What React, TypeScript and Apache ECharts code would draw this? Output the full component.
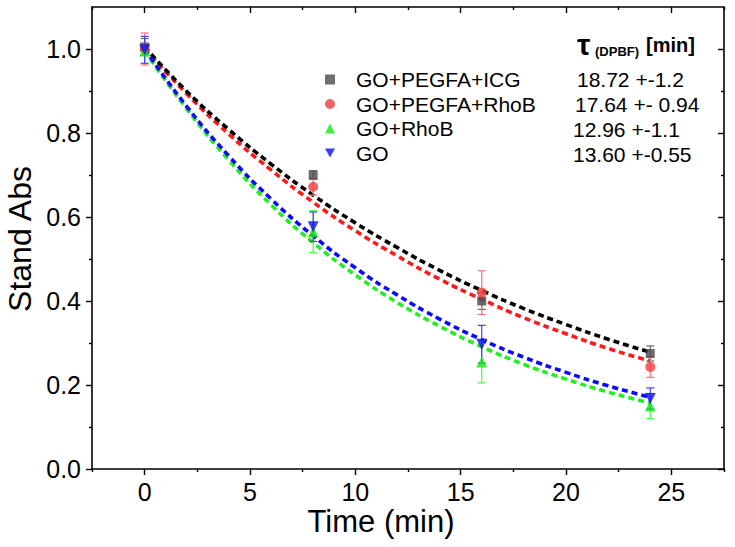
import React, { useEffect, useRef } from "react";
import * as echarts from "echarts";

const FONT = "'Liberation Sans', Arial, Helvetica, sans-serif";

const times = [0, 8, 16, 24];
const seriesNames = ["GO+PEGFA+ICG", "GO+PEGFA+RhoB", "GO+RhoB", "GO"];
const tauLabels = ["18.72 +-1.2", "17.64 +- 0.94", "12.96 +-1.1", "13.60 +-0.55"];

const icgValues = [1.005, 0.7, 0.4, 0.275];
const icgErrors = [0.02, 0.01, 0.02, 0.018];
const rhobPegValues = [1.0, 0.672, 0.42, 0.243];
const rhobPegErrors = [0.038, 0.02, 0.052, 0.025];
const rhobValues = [0.995, 0.565, 0.255, 0.15];
const rhobErrors = [0.01, 0.05, 0.05, 0.03];
const goValues = [0.998, 0.577, 0.297, 0.168];
const goErrors = [0.032, 0.035, 0.045, 0.025];

const fitTimes = [0, 2, 4, 6, 8, 10, 12, 14, 16, 18, 20, 22, 24];
const icgFit = [1.005, 0.899, 0.808, 0.726, 0.652, 0.586, 0.527, 0.473, 0.425, 0.382, 0.344, 0.309, 0.278];
const rhobPegFit = [1.0, 0.893, 0.797, 0.712, 0.635, 0.567, 0.507, 0.452, 0.404, 0.36, 0.322, 0.287, 0.257];
const rhobFit = [0.995, 0.857, 0.735, 0.629, 0.539, 0.462, 0.396, 0.34, 0.291, 0.249, 0.214, 0.183, 0.157];
const goFit = [1.0, 0.863, 0.745, 0.643, 0.555, 0.479, 0.414, 0.357, 0.308, 0.266, 0.23, 0.198, 0.171];

const xMajor = [0, 5, 10, 15, 20, 25];
const xMinor = [-2.5, 2.5, 7.5, 12.5, 17.5, 22.5, 27.5];
const yMajor = [0, 0.2, 0.4, 0.6, 0.8, 1.0];
const yMinor = [0.1, 0.3, 0.5, 0.7, 0.9];

const markerColors = ["#4a4a4a", "#f03c3c", "#14e814", "#1010f0"];
const lineColors = ["#000000", "#ff1a1a", "#22ee22", "#0a0aff"];
const errColors = ["#666666", "#ff7070", "#44ff44", "#4040ff"];
const symbols = ["rect", "circle", "triangle", "path://M0,0 L10,0 L5,9 Z"];
const symbolSizes = [9, 10, 11, 11];

const pointSets = [icgValues, rhobPegValues, rhobValues, goValues];
const errorSets = [icgErrors, rhobPegErrors, rhobErrors, goErrors];
const fitSets = [icgFit, rhobPegFit, rhobFit, goFit];

export default function App() {
  const ref = useRef<HTMLDivElement>(null);
  useEffect(() => {
    document.body.style.margin = "0";
    if (!ref.current) return;
    const chart = echarts.init(ref.current, undefined, { renderer: "svg" });

    const axisLine = { show: true, onZero: false, lineStyle: { color: "#000", width: 1.6 } };
    const noLine = { show: false, onZero: false };
    const mkX = (pos: string, vals: number[], len: number, inside: boolean, labels: boolean, line: boolean) => ({
      type: "value",
      min: -2.5,
      max: 27.5,
      position: pos,
      axisLine: line ? axisLine : noLine,
      axisTick: { show: true, customValues: vals, length: len, inside, lineStyle: { color: "#000", width: 1.4 } },
      axisLabel: labels
        ? { show: true, customValues: xMajor, fontSize: 25, color: "#000", fontFamily: FONT, margin: 10, formatter: (v: number) => String(v) }
        : { show: false },
      splitLine: { show: false },
    });
    const mkY = (pos: string, vals: number[], len: number, inside: boolean, labels: boolean, line: boolean) => ({
      type: "value",
      min: 0,
      max: 1.1,
      position: pos,
      axisLine: line ? axisLine : noLine,
      axisTick: { show: true, customValues: vals, length: len, inside, lineStyle: { color: "#000", width: 1.4 } },
      axisLabel: labels
        ? { show: true, customValues: yMajor, fontSize: 25, color: "#000", fontFamily: FONT, margin: 11, formatter: (v: number) => v.toFixed(1) }
        : { show: false },
      splitLine: { show: false },
    });

    const fitSeries = [1, 0, 2, 3].map((i) => ({
      type: "line",
      name: seriesNames[i] + " fit",
      xAxisIndex: 0,
      yAxisIndex: 0,
      data: fitTimes.map((t, k) => [t, fitSets[i][k]]),
      smooth: true,
      showSymbol: false,
      symbol: "none",
      z: 2,
      lineStyle: { color: lineColors[i], width: 3.6, type: [6, 4] },
    }));

    const errSeries = [0, 1, 2, 3].map((i) => ({
      type: "custom",
      name: seriesNames[i] + " err",
      xAxisIndex: 0,
      yAxisIndex: 0,
      z: 3,
      data: times.map((t, k) => [t, pointSets[i][k], errorSets[i][k]]),
      renderItem: (params: any, api: any) => {
        const x = api.value(0);
        const y = api.value(1);
        const e = api.value(2);
        const top = api.coord([x, y + e]);
        const bot = api.coord([x, y - e]);
        const hw = 4;
        const style = { stroke: errColors[i], lineWidth: 1.2 };
        return {
          type: "group",
          children: [
            { type: "line", shape: { x1: top[0], y1: top[1], x2: bot[0], y2: bot[1] }, style },
            { type: "line", shape: { x1: top[0] - hw, y1: top[1], x2: top[0] + hw, y2: top[1] }, style },
            { type: "line", shape: { x1: bot[0] - hw, y1: bot[1], x2: bot[0] + hw, y2: bot[1] }, style },
          ],
        };
      },
    }));

    const pointSeries = [0, 1, 2, 3].map((i) => ({
      type: "scatter",
      name: seriesNames[i],
      xAxisIndex: 0,
      yAxisIndex: 0,
      z: 4,
      symbol: symbols[i],
      symbolSize: symbolSizes[i],
      itemStyle: { color: markerColors[i] },
      data: times.map((t, k) => [t, pointSets[i][k]]),
    }));

    const rowY = [79, 104, 129, 154];
    const tauTexts = tauLabels.map((s, i) => ({
      type: "text",
      x: 577 - (i >= 2 ? 4 : i === 1 ? 2 : 0),
      y: rowY[i],
      style: { text: s, fontSize: 21, fontFamily: FONT, fill: "#000", textVerticalAlign: "middle" },
    }));

    chart.setOption({
      animation: false,
      backgroundColor: "#fff",
      grid: { left: 92, right: 11, top: 7, bottom: 78, containLabel: false },
      xAxis: [
        mkX("bottom", xMajor, 6, false, true, true),
        mkX("bottom", xMinor, 3, false, false, false),
        mkX("top", xMajor, 6, true, false, true),
        mkX("top", xMinor, 3, true, false, false),
      ],
      yAxis: [
        mkY("left", yMajor, 6, false, true, true),
        mkY("left", yMinor, 3, false, false, false),
        mkY("right", yMajor, 6, true, false, true),
        mkY("right", yMinor, 3, true, false, false),
      ],
      legend: {
        orient: "vertical",
        left: 325,
        top: 69,
        padding: 0,
        itemGap: 3.5,
        itemWidth: 10,
        itemHeight: 10,
        data: seriesNames,
        textStyle: { fontSize: 21, fontFamily: FONT, color: "#000", lineHeight: 20, padding: [0, 0, 0, 16] },
      },
      graphic: [
        {
          type: "text",
          x: 20,
          y: 239,
          rotation: Math.PI / 2,
          style: { text: "Stand Abs", fontSize: 32, fontFamily: FONT, fill: "#000", textAlign: "center", textVerticalAlign: "middle" },
        },
        {
          type: "text",
          x: 381,
          y: 521,
          style: { text: "Time (min)", fontSize: 31, fontFamily: FONT, fill: "#000", textAlign: "center", textVerticalAlign: "middle" },
        },
        {
          type: "text",
          x: 577,
          y: 44,
          style: { text: "τ", fontSize: 30, fontWeight: "bold", fontFamily: FONT, fill: "#000", textVerticalAlign: "middle" },
        },
        {
          type: "text",
          x: 595,
          y: 51,
          style: { text: "(DPBF)", fontSize: 13, fontWeight: "bold", fontFamily: FONT, fill: "#000", textVerticalAlign: "middle" },
        },
        {
          type: "text",
          x: 646,
          y: 45,
          style: { text: "[min]", fontSize: 20, fontWeight: "bold", fontFamily: FONT, fill: "#000", textVerticalAlign: "middle" },
        },
        ...tauTexts,
      ],
      series: [...fitSeries, ...errSeries, ...pointSeries],
    });
    return () => chart.dispose();
  }, []);
  return <div ref={ref} style={{ width: 735, height: 547 }} />;
}
